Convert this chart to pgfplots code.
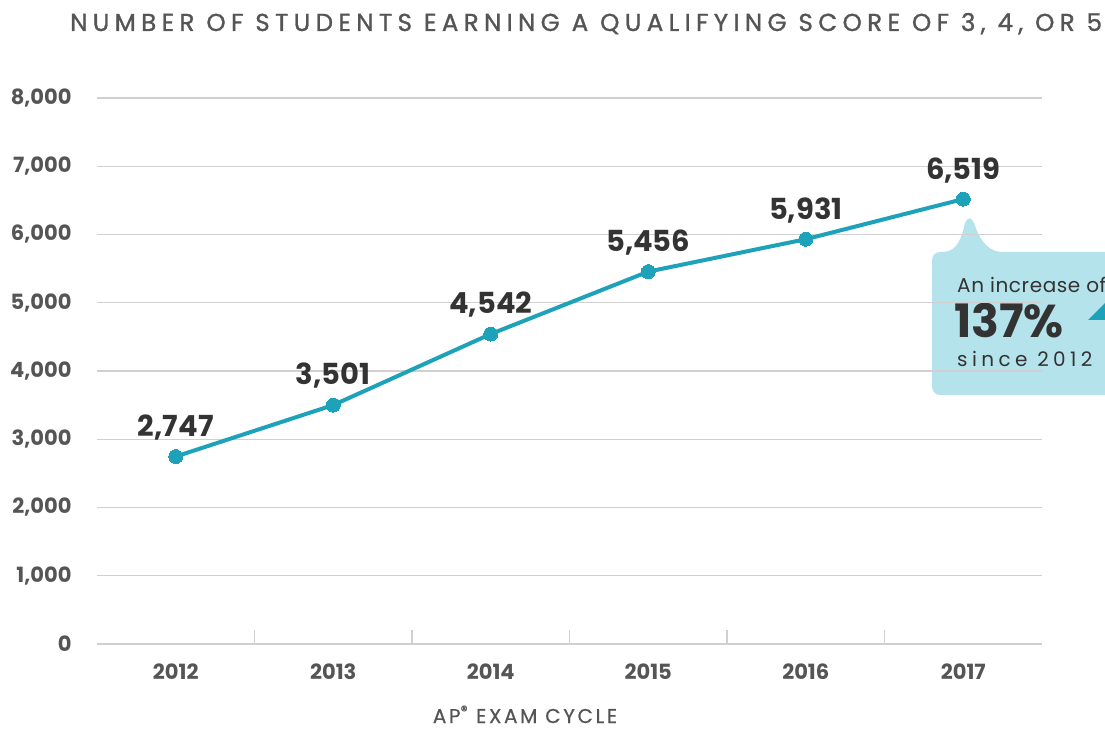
\documentclass[border=0pt]{standalone}
\usepackage{pgfplots}
\pgfplotsset{compat=1.18}
\usepackage{fontspec}
\setmainfont{Poppins}
\definecolor{teal1}{HTML}{1DA2BA}
\definecolor{boxblue}{HTML}{B5E3EB}
\definecolor{gridgray}{HTML}{D0D0D0}
\definecolor{tickgray}{HTML}{555555}
\definecolor{dark}{HTML}{333333}
\begin{document}
\begin{tikzpicture}[x=1pt,y=1pt]
\useasboundingbox (0,0) rectangle (1105,728);
% callout
\fill[boxblue,rounded corners=8pt] (932,333) rectangle (1130,476);
\fill[boxblue] (944,476) .. controls (958,477) and (962,492) .. (965,505) .. controls (967,511) and (972,511) .. (974,505) .. controls (979,490) and (986,478) .. (1000,476) -- cycle;
\fill[teal1] (1088,408) -- (1110,430) -- (1110,408) -- cycle;
\node[anchor=base west,inner sep=0,text=dark,font=\fontsize{20}{22}\selectfont\addfontfeature{LetterSpace=3}] at (957,435) {An increase of};
\node[anchor=base west,inner sep=0,text=dark,font=\bfseries\fontsize{46}{48}\selectfont] at (954,390) {137\%};
\node[anchor=base west,inner sep=0,text=dark,font=\fontsize{20}{22}\selectfont\addfontfeature{LetterSpace=22}] at (957,361) {since 2012};
% title
\node[anchor=base west,inner sep=0,text=tickgray,font=\fontsize{24.5}{26}\selectfont\addfontfeature{LetterSpace=22,FakeBold=1.2}] at (70,697) {NUMBER OF STUDENTS EARNING A QUALIFYING SCORE OF 3, 4, OR 5};
\node[anchor=base,inner sep=0,text=tickgray,font=\fontsize{20}{22}\selectfont\addfontfeature{LetterSpace=13,FakeBold=0.6}] at (525,5) {AP\textsuperscript{®} EXAM CYCLE};
\begin{axis}[
  at={(97pt,84pt)}, anchor=south west,
  scale only axis, width=945pt, height=546pt,
  xmin=-0.5, xmax=5.5, ymin=0, ymax=8000,
  axis line style={draw=none},
  ymajorgrids, grid style={gridgray, line width=1.2pt},
  ytick={0,1000,...,8000},
  xtick={0,...,5},
  xticklabels={2012,2013,2014,2015,2016,2017},
  xtick pos=bottom, ytick pos=left,
  tick style={draw=none},
  extra x ticks={0.5,1.5,2.5,3.5,4.5},
  extra x tick labels={},
  extra x tick style={grid=none, tick style={draw=gridgray, line width=1.2pt}, major tick length=14pt, tick align=inside},
  /pgf/number format/assume math mode=true,
  /pgf/number format/1000 sep={,},
  yticklabel style={font=\bfseries\fontsize{21}{23}\selectfont, text=tickgray, xshift=-22pt},
  xticklabel style={font=\bfseries\fontsize{21}{23}\selectfont, text=tickgray, yshift=-16pt},
  nodes near coords,
  nodes near coords style={font=\bfseries\fontsize{29}{31}\selectfont, text=dark, anchor=south, yshift=13pt},
  clip=false,
]
\addplot[teal1, line width=4pt, mark=*, mark size=7pt, mark options={fill=teal1, draw=teal1, line width=0pt}] coordinates {
(0,2747) (1,3501) (2,4542) (3,5456) (4,5931) (5,6519)};
\end{axis}
\end{tikzpicture}
\end{document}
